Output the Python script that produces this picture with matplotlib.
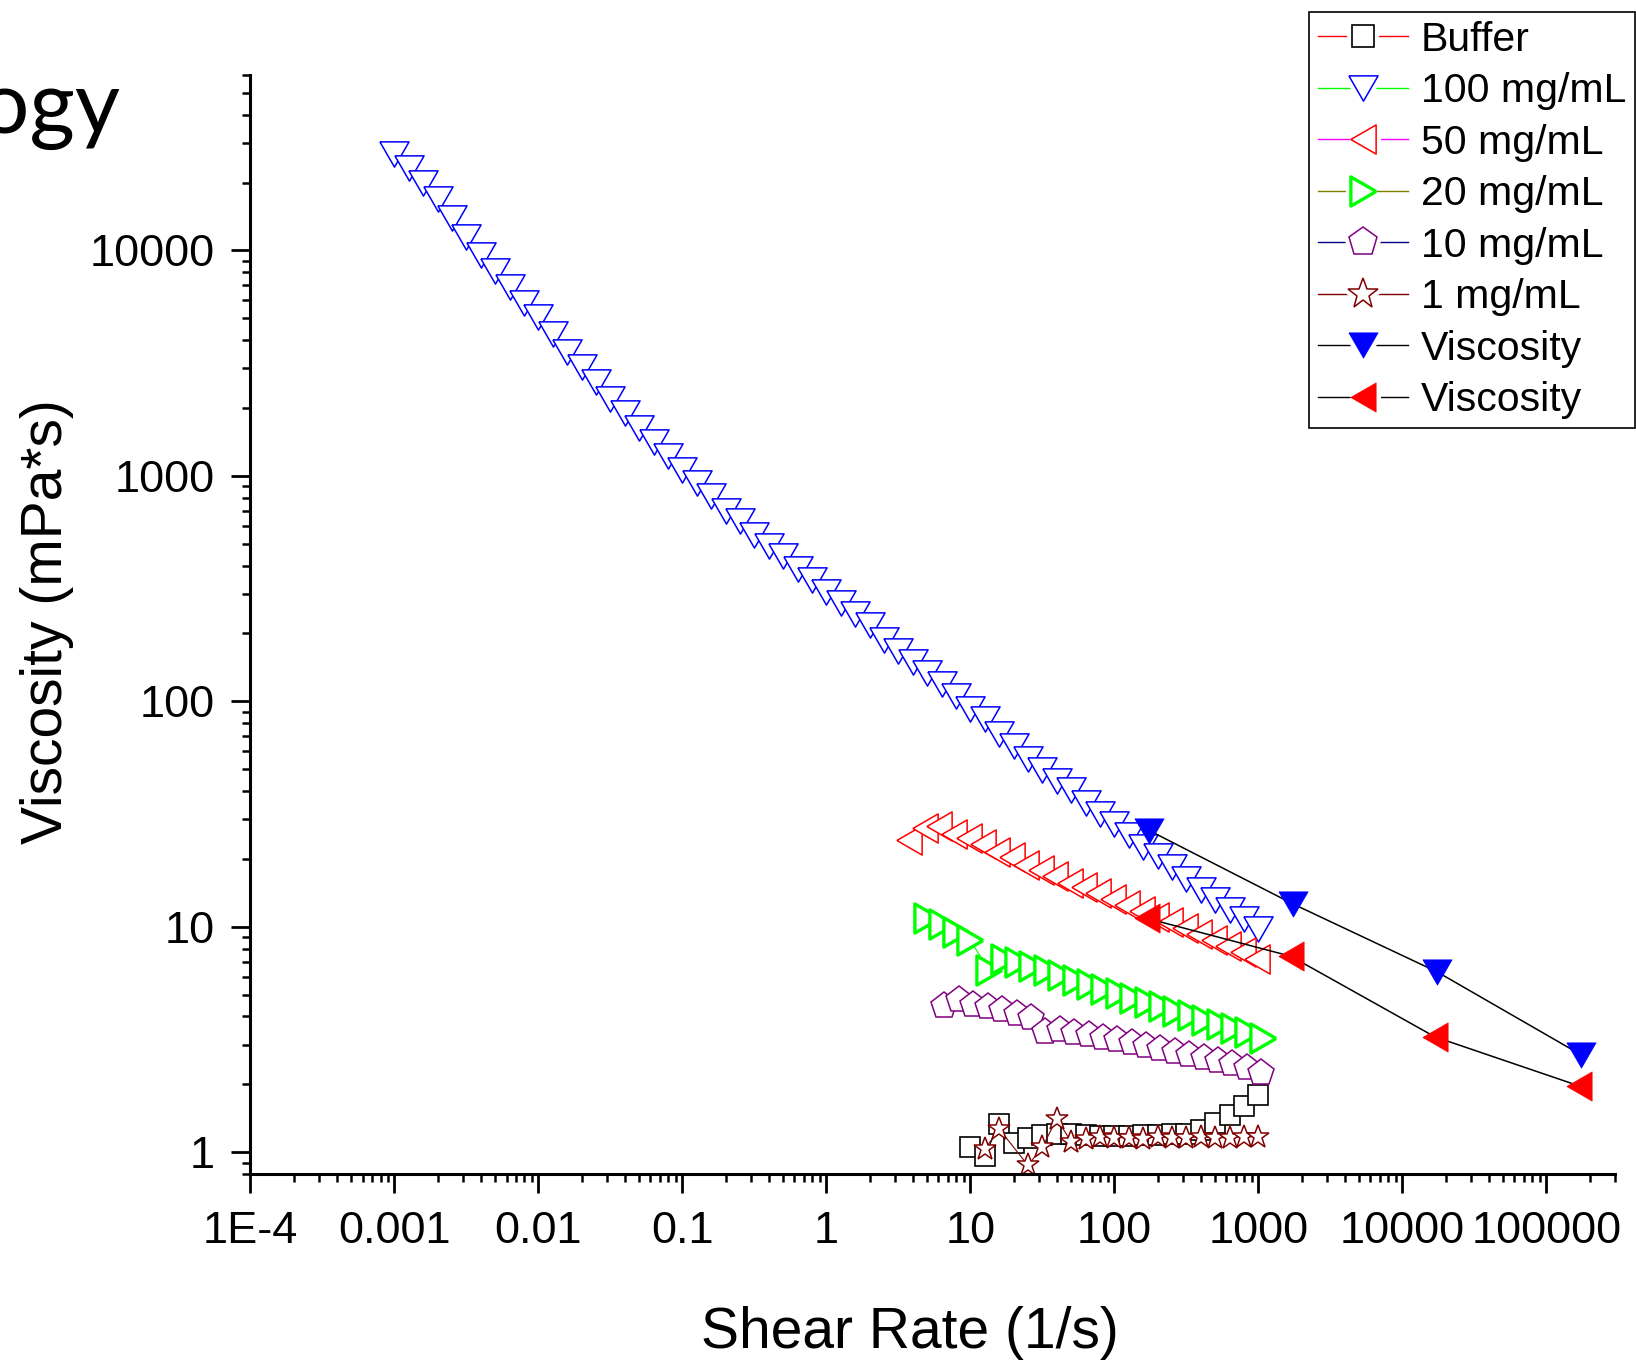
import matplotlib
matplotlib.use("Agg")
import matplotlib.pyplot as plt
from matplotlib.lines import Line2D
from matplotlib.markers import MarkerStyle
from matplotlib.legend_handler import HandlerTuple
from matplotlib.ticker import FixedLocator, FixedFormatter, LogLocator, NullFormatter

plt.rcParams["font.family"] = ["Liberation Sans", "DejaVu Sans"]

# ---- data (shear rate 1/s, viscosity mPa*s) ----
conc100_x = [0.001, 0.00126, 0.00158, 0.002, 0.00251, 0.00316, 0.00398, 0.00501, 0.00631, 0.00794,
             0.01, 0.0126, 0.0158, 0.02, 0.0251, 0.0316, 0.0398, 0.0501, 0.0631, 0.0794,
             0.1, 0.126, 0.158, 0.2, 0.251, 0.316, 0.398, 0.501, 0.631, 0.794,
             1, 1.26, 1.58, 2, 2.51, 3.16, 3.98, 5.01, 6.31, 7.94,
             10, 12.6, 15.8, 20, 25.1, 31.6, 39.8, 50.1, 63.1, 79.4,
             100, 126, 158, 200, 251, 316, 398, 501, 631, 794, 1000]
conc100_y = [26850, 23170, 19910, 16900, 13900, 11530, 9570, 8070, 6920, 5830,
             5050, 4260, 3530, 3050, 2620, 2200, 1900, 1630, 1410, 1220,
             1060, 929, 815, 701, 628, 547, 489, 439, 385, 344,
             305, 272, 244, 218, 187, 168, 150, 133, 119, 106,
             92.3, 83.9, 71.6, 63.4, 55.3, 49.7, 44.4, 40.5, 35.3, 31.6,
             28.5, 25.5, 22.7, 20.6, 18.5, 16.3, 14.6, 13.2, 11.9, 10.8, 9.8]

conc50_x = [3.74, 4.84, 6.1, 7.7, 9.7, 12.2, 15.4, 19.4, 24.4, 30.8, 38.8, 48.8, 61.5,
            77.4, 97.5, 123, 155, 195, 245, 309, 389, 490, 617, 777, 978]
conc50_y = [24.2, 27.5, 27.9, 25.9, 24.8, 23.4, 21.5, 20.4, 18.8, 17.8, 16.8, 15.7, 15.0,
            14.1, 13.3, 12.5, 11.8, 11.1, 10.5, 9.9, 9.3, 8.7, 8.2, 7.7, 7.2]

conc20_x = [5.0, 6.3, 7.9, 10.0,
            13.5, 17.0, 21.4, 26.9, 33.9, 42.7, 53.7, 67.6, 85.1, 107,
            135, 170, 214, 269, 339, 427, 537, 676, 851, 1072]
conc20_y = [10.9, 10.3, 9.5, 8.7,
            6.4, 7.2, 7.0, 6.7, 6.4, 6.1, 5.8, 5.6, 5.3, 5.1,
            4.85, 4.65, 4.45, 4.25, 4.05, 3.85, 3.7, 3.55, 3.4, 3.2]

conc10_x = [6.6, 8.3, 10.5, 13.2, 16.6, 20.9, 26.3, 33.1, 41.7, 52.5, 66.1, 83.2,
            105, 132, 166, 209, 263, 331, 417, 525, 661, 832, 1047]
conc10_y = [4.44, 4.75, 4.52, 4.42, 4.27, 4.12, 3.94, 3.43, 3.50, 3.39, 3.31, 3.22,
            3.14, 3.05, 2.96, 2.87, 2.79, 2.70, 2.62, 2.53, 2.45, 2.36, 2.24]

conc1_x = [12.6, 15.8, 25.1, 31.6, 39.8, 50.1, 63.1, 79.4, 100, 126, 158, 200,
           251, 316, 398, 501, 631, 794, 1000]
conc1_y = [1.03, 1.27, 0.875, 1.05, 1.41, 1.11, 1.15, 1.17, 1.16, 1.16, 1.15, 1.17,
           1.16, 1.16, 1.17, 1.16, 1.16, 1.17, 1.17]

buffer_x = [10, 12.6, 15.8, 20, 25.1, 31.6, 39.8, 50.1, 63.1, 79.4, 100, 126, 158,
            200, 251, 316, 398, 501, 631, 794, 1000]
buffer_y = [1.05, 0.96, 1.34, 1.10, 1.16, 1.19, 1.20, 1.20, 1.19, 1.18, 1.18, 1.18, 1.19,
            1.19, 1.20, 1.21, 1.26, 1.35, 1.46, 1.60, 1.79]

visc_blue_x = [175, 1750, 17500, 175000]
visc_blue_y = [26.7, 12.6, 6.3, 2.7]
visc_red_x = [168, 1680, 16800, 168000]
visc_red_y = [10.9, 7.4, 3.25, 1.97]

legend_labels = ["Buffer", "100 mg/mL", "50 mg/mL", "20 mg/mL", "10 mg/mL", "1 mg/mL",
                 "Viscosity", "Viscosity"]
x_tick_vals = [1e-4, 1e-3, 1e-2, 1e-1, 1, 10, 100, 1000, 1e4, 1e5]
x_tick_text = ["1E-4", "0.001", "0.01", "0.1", "1", "10", "100", "1000", "10000", "100000"]
y_tick_vals = [1, 10, 100, 1000, 10000]
y_tick_text = ["1", "10", "100", "1000", "10000"]

# Origin-like equilateral triangles
TRI_DOWN = MarkerStyle([(-1, 0.866), (1, 0.866), (0, -0.866), (-1, 0.866)], joinstyle="miter")
TRI_LEFT = MarkerStyle([(-0.866, 0), (0.866, 1), (0.866, -1), (-0.866, 0)], joinstyle="miter")
TRI_RIGHT = MarkerStyle([(0.866, 0), (-0.866, 1), (-0.866, -1), (0.866, 0)], joinstyle="miter")

BLUE, RED, GREEN, PURPLE, MAROON = "#0000FF", "#FF0000", "#00FF00", "#800080", "#800000"

fig = plt.figure(figsize=(16.36, 13.62), dpi=100)
ax = fig.add_axes([0.1531, 0.138, 0.8341, 0.8069])

ax.plot(buffer_x, buffer_y, color="black", lw=0.8, marker="s", ms=15,
        mfc="white", mec="black", mew=1.2)
ax.plot(conc100_x, conc100_y, color=BLUE, lw=0.8, marker=TRI_DOWN, ms=21,
        mfc="white", mec=BLUE, mew=1.1)
ax.plot(conc50_x, conc50_y, color=RED, lw=0.8, marker=TRI_LEFT, ms=21,
        mfc="white", mec=RED, mew=1.1)
ax.plot(conc20_x, conc20_y, color=GREEN, lw=0.8, marker=TRI_RIGHT, ms=21,
        mfc="white", mec=GREEN, mew=2.4)
ax.plot(conc10_x, conc10_y, color=PURPLE, lw=0.8, marker="p", ms=20,
        mfc="white", mec=PURPLE, mew=1.1)
ax.plot(conc1_x, conc1_y, color=MAROON, lw=0.8, marker="*", ms=17,
        mfc="white", mec=MAROON, mew=1.1)
ax.plot(visc_blue_x, visc_blue_y, color="black", lw=1.1, marker=TRI_DOWN, ms=21,
        mfc=BLUE, mec=BLUE, mew=0.5)
ax.plot(visc_red_x, visc_red_y, color="black", lw=1.1, marker=TRI_LEFT, ms=21,
        mfc=RED, mec=RED, mew=0.5)

ax.set_xscale("log")
ax.set_yscale("log")
ax.set_xlim(1e-4, 3e5)
ax.set_ylim(0.8, 6e4)

ax.xaxis.set_major_locator(FixedLocator(x_tick_vals))
ax.xaxis.set_major_formatter(FixedFormatter(x_tick_text))
ax.yaxis.set_major_locator(FixedLocator(y_tick_vals))
ax.yaxis.set_major_formatter(FixedFormatter(y_tick_text))
for axis in (ax.xaxis, ax.yaxis):
    axis.set_minor_locator(LogLocator(base=10, subs=range(2, 10), numticks=100))
    axis.set_minor_formatter(NullFormatter())

for side in ("top", "right"):
    ax.spines[side].set_visible(False)
for side in ("left", "bottom"):
    ax.spines[side].set_linewidth(2.2)
ax.tick_params(which="major", direction="out", length=13.5, width=2, labelsize=32.5)
ax.tick_params(which="minor", direction="out", length=5.5, width=1.8)
ax.tick_params(axis="x", which="major", pad=13)
ax.tick_params(axis="y", which="major", pad=12)

ax.set_xlabel("Shear Rate (1/s)", fontsize=41)
ax.set_ylabel("Viscosity (mPa*s)", fontsize=41)
ax.xaxis.set_label_coords(0.483, -0.12)
ax.yaxis.set_label_coords(-0.129, 0.503)

# legend: line colours in the legend differ from the plotted ones;
# a white halo under each marker gives Origin's gap between line and symbol
legend_line = ["#FF0000", "#00FF00", "#FF00FF", "#808000", "#000080", MAROON, "black", "black"]
legend_marker = ["s", TRI_DOWN, TRI_LEFT, TRI_RIGHT, "p", "*", TRI_DOWN, TRI_LEFT]
legend_mec = ["black", BLUE, RED, GREEN, PURPLE, MAROON, BLUE, RED]
legend_mfc = ["white"] * 6 + [BLUE, RED]
legend_ms = [15.5, 21, 21, 21, 21, 23, 21, 21]
legend_mew = [1.2, 1.1, 1.1, 2.4, 1.1, 1.1, 0.5, 0.5]
handles = []
for c, m, e, f, s, w in zip(legend_line, legend_marker, legend_mec,
                            legend_mfc, legend_ms, legend_mew):
    halo = Line2D([], [], color=c, lw=1.0, marker=m, ms=s, mec="white",
                  mfc="white", mew=7)
    sym = Line2D([], [], ls="none", marker=m, ms=s, mec=e, mfc=f, mew=w)
    handles.append((halo, sym))
leg = fig.legend(handles, legend_labels, loc="upper right",
                 bbox_to_anchor=(1635 / 1636, 1 - 11.7 / 1362),
                 bbox_transform=fig.transFigure, fontsize=29.5, frameon=True,
                 fancybox=False, shadow=False, borderaxespad=0, borderpad=0.22,
                 labelspacing=0.33, handlelength=2.2, handletextpad=0.3,
                 framealpha=1, handler_map={tuple: HandlerTuple(ndivide=1, pad=0)})
leg.get_frame().set_edgecolor("black")
leg.get_frame().set_linewidth(1.2)

# cropped slide title left over in the screenshot
fig.text(120 / 1636, 1 - 133 / 1362, "Rheology", ha="right", va="baseline",
         fontsize=63, family=["Lato", "DejaVu Sans"], color="black")

fig.savefig("out.png", dpi=100)
